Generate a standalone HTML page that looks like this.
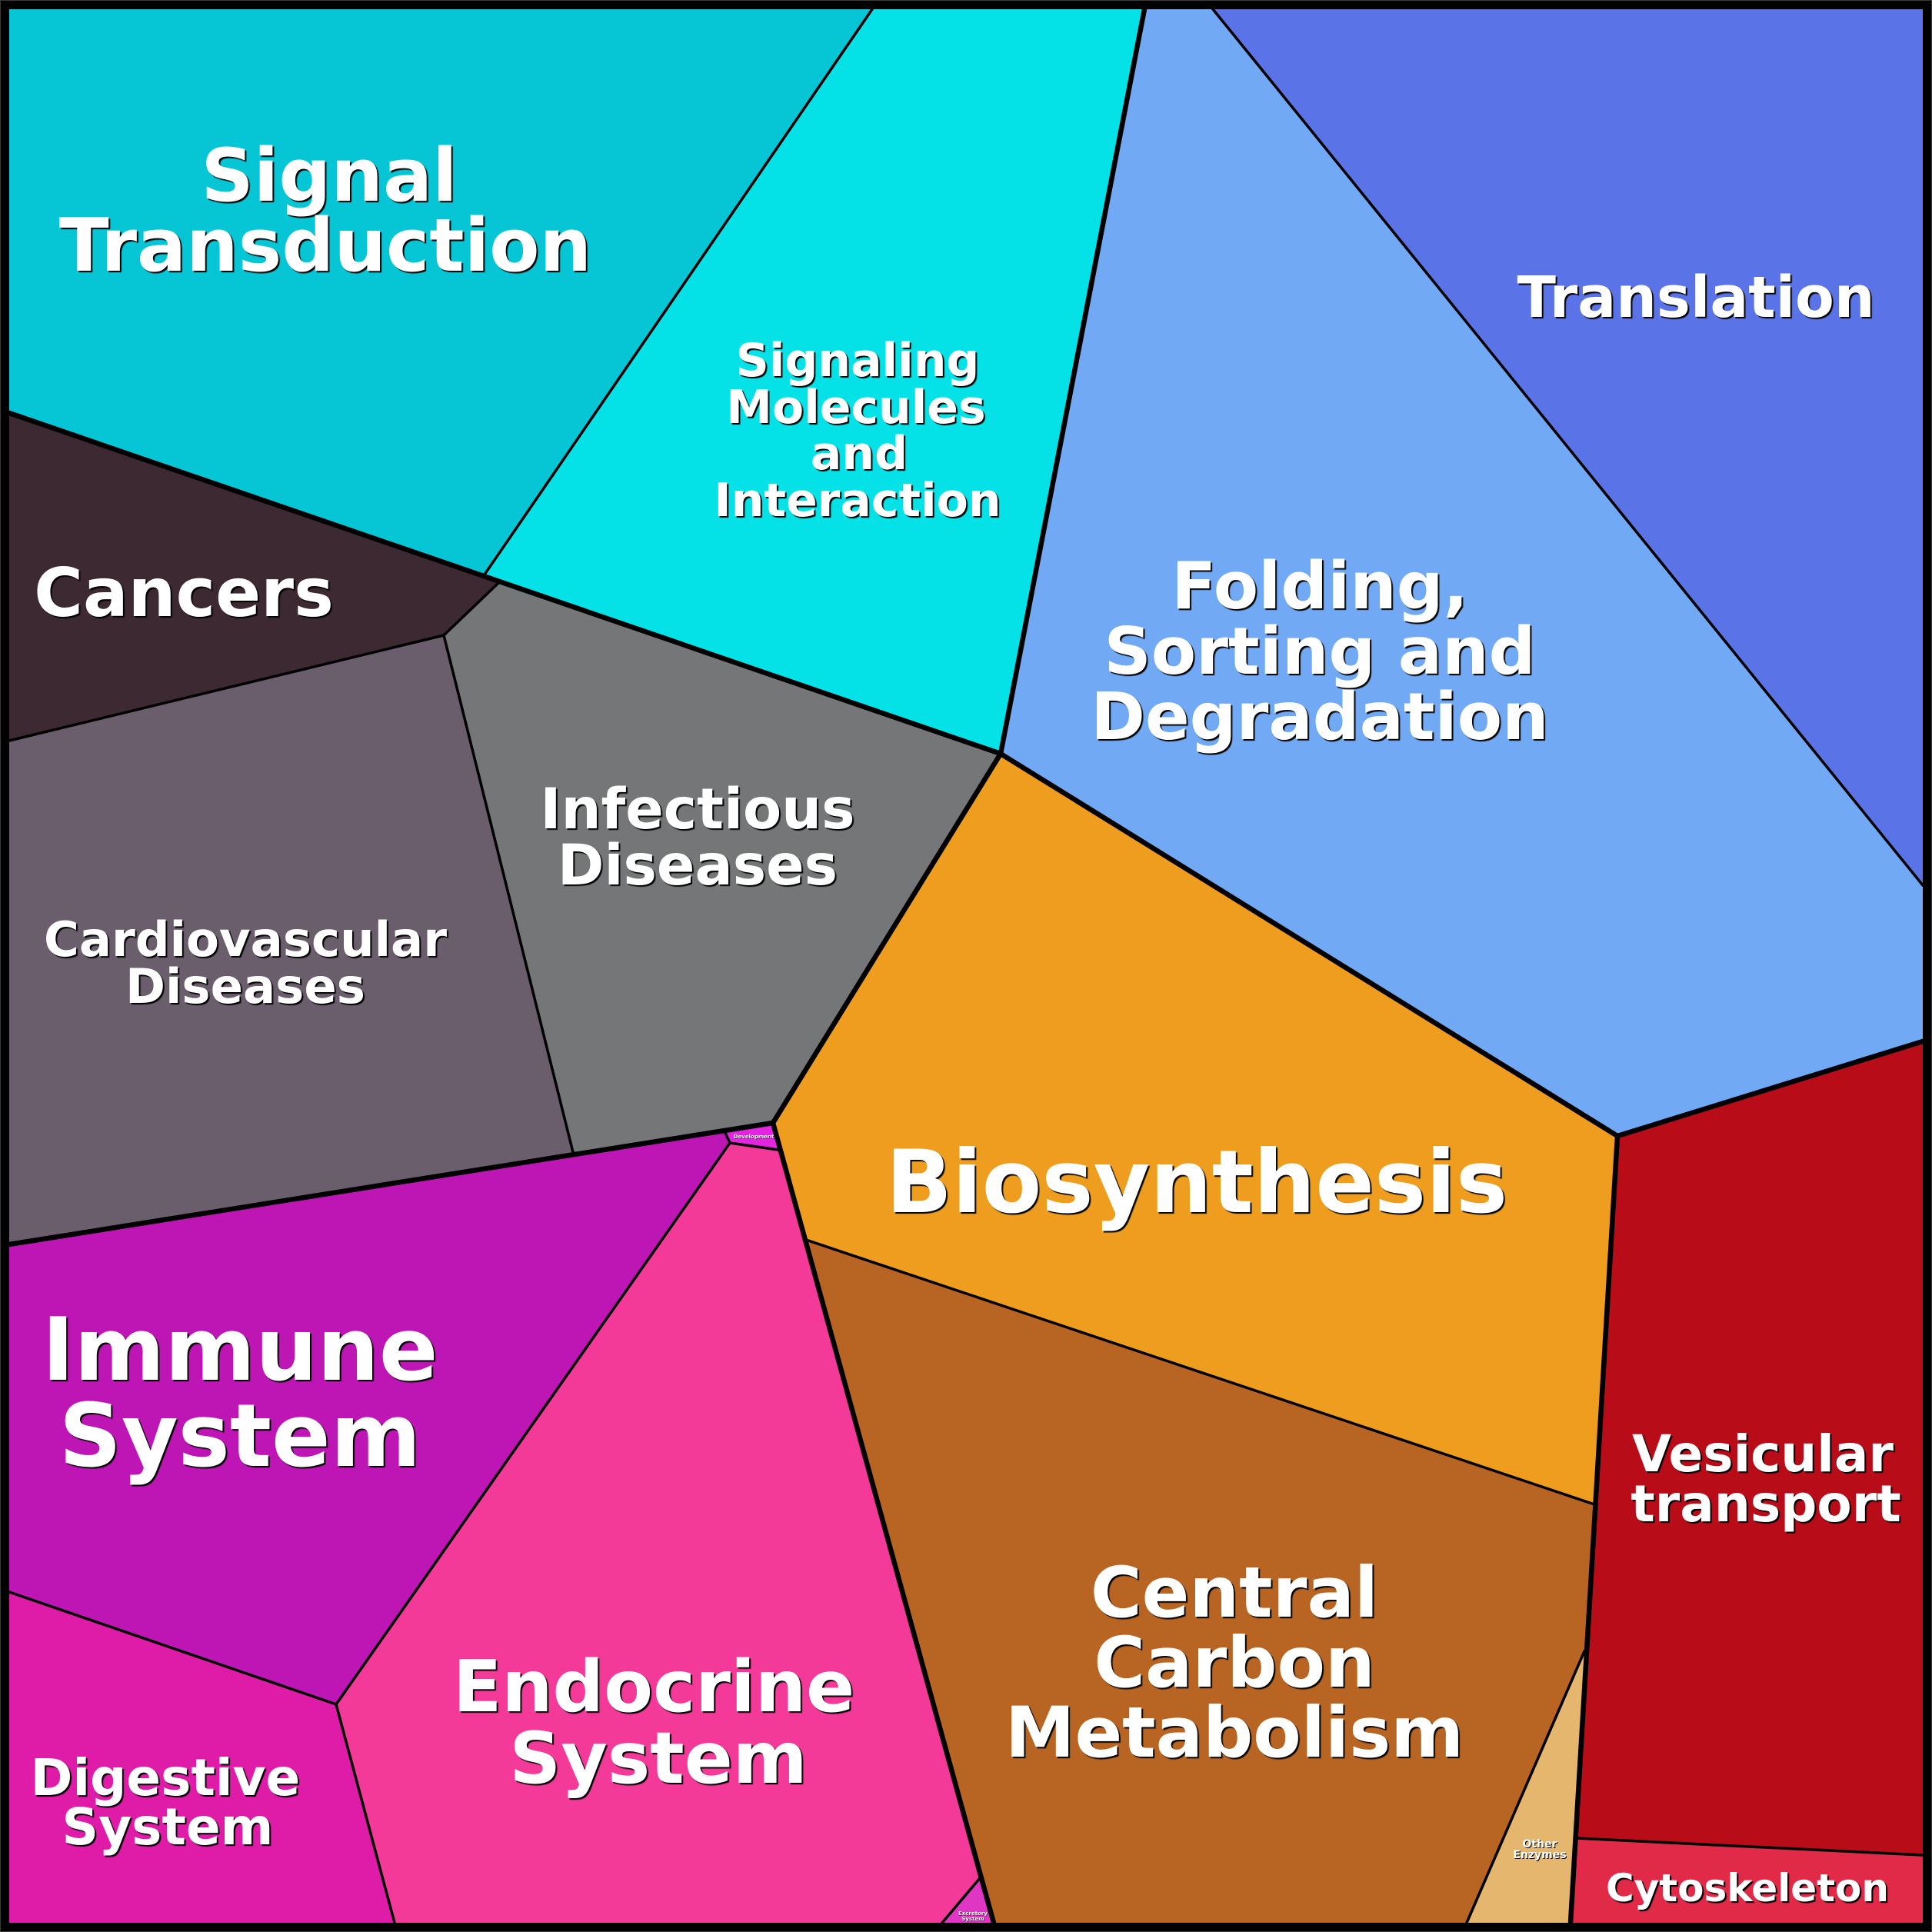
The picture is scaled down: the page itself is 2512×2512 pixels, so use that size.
<!DOCTYPE html>
<html>
<head>
<meta charset="utf-8">
<style>
  html, body { margin:0; padding:0; background:#000; }
  svg { display:block; }
  text {
    font-family: "DejaVu Sans", "Liberation Sans", sans-serif;
    font-weight: bold;
    fill: #ffffff;
    text-anchor: middle;
    text-shadow: 2px 2px 1px #000;
  }
</style>
</head>
<body>
<svg width="2512" height="2512" viewBox="0 0 2512 2512" xmlns="http://www.w3.org/2000/svg">
  <rect x="0" y="0" width="2512" height="2512" fill="#000"/>

  <!-- Regions -->
  <polygon fill="#06C5D5" points="12,12 1134,12 630,747 12,537"/>
  <polygon fill="#04E2E8" points="1134,12 1488,12 1301,980 647,759 630,747"/>
  <polygon fill="#71A9F5" points="1488,12 1577,12 2500,1151 2500,1354 2103,1477 1301,980"/>
  <polygon fill="#5A73E6" points="1577,12 2500,12 2500,1151"/>
  <polygon fill="#3C2931" points="12,537 630,747 647,759 577,826 12,963"/>
  <polygon fill="#6A5E6C" points="12,963 577,826 745,1498 12,1618"/>
  <polygon fill="#757677" points="647,759 1301,980 1005,1460 943,1473 745,1498 577,826"/>
  <polygon fill="#EE9D1F" points="1301,980 2103,1477 2073,1956 1048,1612 1012,1495 1005,1460"/>
  <polygon fill="#B86422" points="1048,1612 2073,1956 2060,2147 1907,2500 1292,2500 1274,2442"/>
  <polygon fill="#E5B66D" points="2060,2147 2042,2500 1907,2500"/>
  <polygon fill="#B80D18" points="2103,1477 2500,1354 2500,2412 2050,2390"/>
  <polygon fill="#E02A48" points="2050,2390 2500,2412 2500,2500 2042,2500"/>
  <polygon fill="#BD16B4" points="12,1618 943,1473 949,1486 437,2216 12,2070"/>
  <polygon fill="#E324E0" points="943,1473 1005,1460 1012,1495 949,1486"/>
  <polygon fill="#F43A98" points="949,1486 1012,1495 1274,2442 1225,2500 513,2500 437,2216"/>
  <polygon fill="#E036C4" points="1274,2442 1292,2500 1225,2500"/>
  <polygon fill="#DE1CA8" points="12,2070 437,2216 513,2500 12,2500"/>

  <!-- Thin lines -->
  <g fill="none" stroke="#000" stroke-width="3.5" stroke-linejoin="round" stroke-linecap="round">
    <polyline points="1134,12 630,747"/>
    <polyline points="1577,12 2500,1151"/>
    <polyline points="647,759 577,826 12,963"/>
    <polyline points="577,826 745,1498"/>
    <polyline points="1048,1612 2073,1956"/>
    <polyline points="2060,2147 1907,2500"/>
    <polyline points="2050,2390 2500,2412"/>
    <polyline points="943,1473 949,1486 1012,1495"/>
    <polyline points="949,1486 437,2216"/>
    <polyline points="12,2070 437,2216 513,2500"/>
    <polyline points="1274,2442 1225,2500"/>
  </g>

  <!-- Thick lines -->
  <g fill="none" stroke="#000" stroke-width="6.5" stroke-linejoin="round" stroke-linecap="round">
    <polyline points="12,537 1301,980"/>
    <polyline points="1488,12 1301,980 2103,1477 2500,1354"/>
    <polyline points="1301,980 1005,1460"/>
    <polyline points="12,1618 1005,1460 1292,2500"/>
    <polyline points="2103,1477 2042,2500"/>
  </g>

  <!-- Outer frame -->
  <path fill="#000" fill-rule="evenodd" d="M0,0 H2512 V2512 H0 Z M12,12 V2500 H2500 V12 Z"/>
  <rect x="0.5" y="0.5" width="2511" height="2511" fill="none" stroke="#3a3a3a" stroke-width="1"/>

  <!-- Labels -->
  <text font-size="95"><tspan x="428" y="261">Signal</tspan><tspan x="423" y="352">Transduction</tspan></text>

  <text font-size="60"><tspan x="1115" y="489">Signaling</tspan><tspan x="1113" y="550">Molecules</tspan><tspan x="1117" y="610">and</tspan><tspan x="1115" y="671">Interaction</tspan></text>

  <text font-size="74" x="2205" y="412">Translation</text>

  <text font-size="87" x="239" y="801">Cancers</text>

  <text font-size="85"><tspan x="1716" y="791">Folding,</tspan><tspan x="1716" y="876">Sorting and</tspan><tspan x="1716" y="961">Degradation</tspan></text>

  <text font-size="73"><tspan x="907" y="1077">Infectious</tspan><tspan x="907" y="1150">Diseases</tspan></text>

  <text font-size="62.5"><tspan x="319" y="1243">Cardiovascular</tspan><tspan x="319" y="1304">Diseases</tspan></text>

  <text font-size="113" x="1556" y="1576">Biosynthesis</text>

  <text font-size="113"><tspan x="312" y="1794">Immune</tspan><tspan x="312" y="1906">System</tspan></text>

  <text font-size="93"><tspan x="850" y="2225">Endocrine</tspan><tspan x="856" y="2318">System</tspan></text>

  <text font-size="66"><tspan x="215" y="2334">Digestive</tspan><tspan x="218" y="2398">System</tspan></text>

  <text font-size="91"><tspan x="1605" y="2102">Central</tspan><tspan x="1605" y="2193">Carbon</tspan><tspan x="1605" y="2284">Metabolism</tspan></text>

  <text font-size="66"><tspan x="2292" y="1913">Vesicular</tspan><tspan x="2296" y="1978">transport</tspan></text>

  <text font-size="50" x="2272" y="2472">Cytoskeleton</text>

  <text font-size="14" style="text-shadow:1px 1px 0 #000"><tspan x="2002" y="2402">Other</tspan><tspan x="2002" y="2416">Enzymes</tspan></text>

  <text font-size="7" style="text-shadow:0.5px 0.5px 0 #000" x="980" y="1480">Development</text>

  <text font-size="7" style="text-shadow:0.5px 0.5px 0 #000"><tspan x="1265" y="2490">Excretory</tspan><tspan x="1265" y="2497">System</tspan></text>
</svg>
</body>
</html>
